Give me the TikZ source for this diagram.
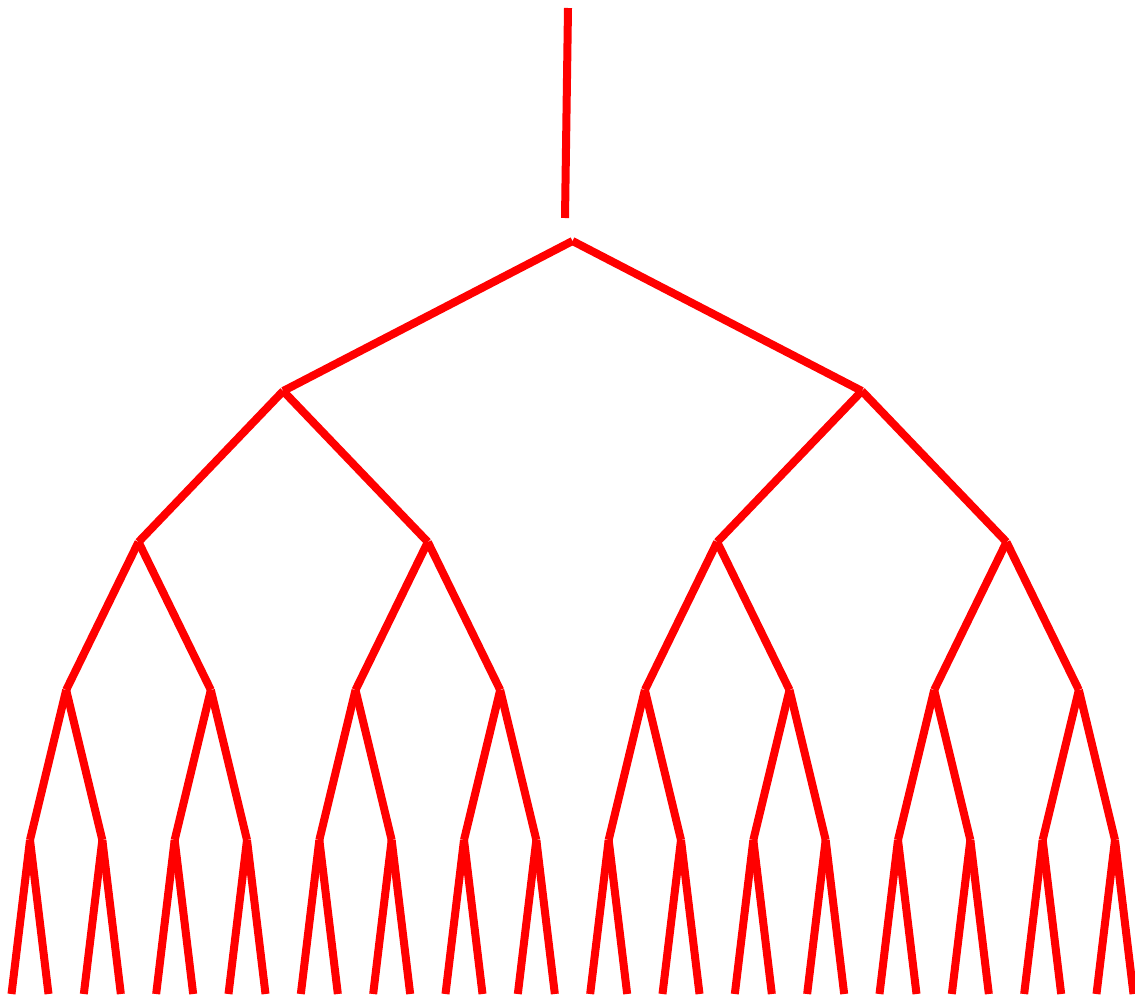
\documentclass[tikz,border=0pt]{standalone}
\begin{document}
\begin{tikzpicture}[x=1pt,y=-1pt,
  branch/.style={draw=red,line width=8pt,line cap=butt}]
\useasboundingbox (0,0) rectangle (1135,999);
% stem
\coordinate (top) at (568,8);
\coordinate (stembot) at (565,218);
\draw[branch] (top) -- (stembot);
% nodes
\coordinate (n0-0) at (572.5,241);
\foreach \i in {0,1} \coordinate (n1-\i) at ({283.2+578.67*\i},391);
\foreach \i in {0,...,3} \coordinate (n2-\i) at ({138.5+289.33*\i},542);
\foreach \i in {0,...,7} \coordinate (n3-\i) at ({66.17+144.67*\i},690);
\foreach \i in {0,...,15} {
  \coordinate (n4-\i) at ({30+72.333*\i},840);
  \coordinate (leaf-\i-a) at ({30+72.333*\i-18.5},994);
  \coordinate (leaf-\i-b) at ({30+72.333*\i+18.5},994);
}
% edges
\foreach \lv/\nx/\cnt in {0/1/0,1/2/1,2/3/3,3/4/7} {
  \foreach \i in {0,...,\cnt} {
    \pgfmathtruncatemacro{\ca}{2*\i}
    \pgfmathtruncatemacro{\cb}{2*\i+1}
    \draw[branch] (n\lv-\i) -- (n\nx-\ca);
    \draw[branch] (n\lv-\i) -- (n\nx-\cb);
  }
}
\foreach \i in {0,...,15} {
  \draw[branch] (n4-\i) -- (leaf-\i-a);
  \draw[branch] (n4-\i) -- (leaf-\i-b);
}
\end{tikzpicture}
\end{document}
